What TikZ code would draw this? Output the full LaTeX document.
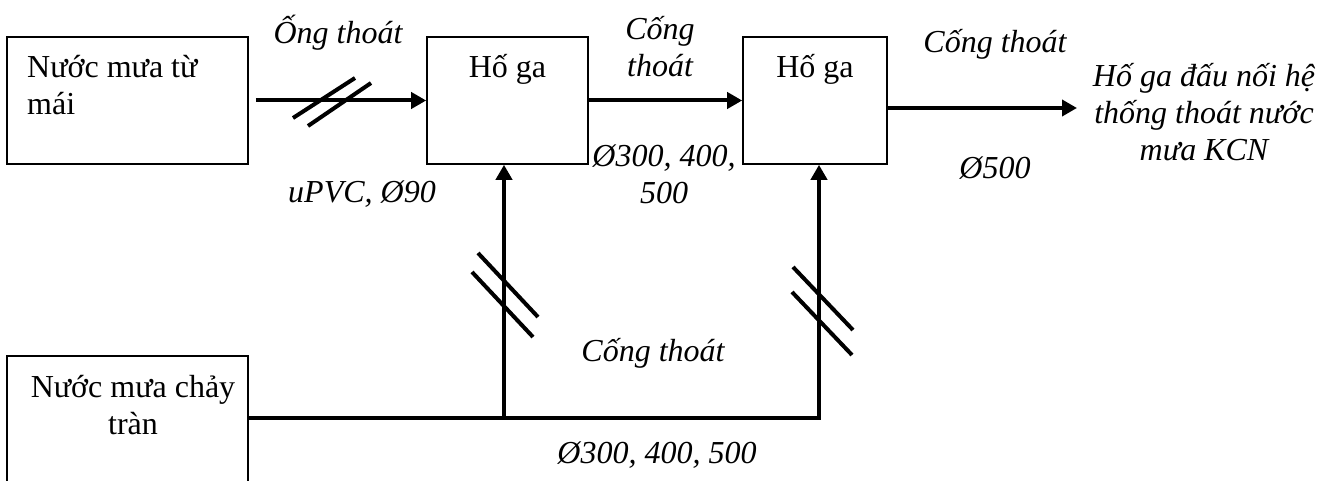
\documentclass[tikz,border=0pt]{standalone}
\usepackage{fontspec}
\setmainfont{Liberation Serif}
\usetikzlibrary{arrows.meta}
\begin{document}
\begin{tikzpicture}[x=1pt,y=-1pt,
  box/.style={draw, line width=1.6pt, inner sep=0pt},
  txt/.style={font=\fontsize{32}{37}\selectfont, inner sep=0pt, anchor=base},
  lbl/.style={txt, font=\fontsize{32}{37}\selectfont\itshape},
  flow/.style={line width=4pt, -{Triangle[length=15pt,width=16pt]}},
  hash/.style={line width=4pt}]
\useasboundingbox (0,0) rectangle (1331,481);
% boxes
\node[box, minimum width=241pt, minimum height=127pt] (roof) at (127.5,100.5) {};
\node[box, minimum width=161pt, minimum height=127pt] (hg1) at (507.5,100.5) {};
\node[box, minimum width=144pt, minimum height=127pt] (hg2) at (815,100.5) {};
\node[box, minimum width=241pt, minimum height=130pt] (run) at (127.5,421) {};
% box texts (multi-line nodes: base = last line)
\node[txt, anchor=base west, align=left] (roofT) at (27,115) {Nước mưa từ\\mái};
\node[txt] (hg1T) at (507.5,78) {Hố ga};
\node[txt] (hg2T) at (815,78) {Hố ga};
\node[txt, align=center] (runT) at (133,434) {Nước mưa chảy\\tràn};
% connectors
\draw[flow] ([xshift=7pt]roof.east) -- (hg1.west);
\draw[flow] (hg1.east) -- (hg2.west);
\coordinate (outlet) at (1077,108);
\draw[flow] (hg2.east |- outlet) -- (outlet);
\coordinate (j1) at (504,418);
\coordinate (j2) at (819,418);
\draw[flow] (run.east |- j1) -- (j2) -- (hg2.south -| j2);
\draw[flow] (j1) -- (hg1.south -| j1);
% hash marks
\draw[hash] (293,118) -- (355,78);
\draw[hash] (308,126) -- (371,83);
\draw[hash] (478,253) -- (538,317);
\draw[hash] (472,272) -- (533,337);
\draw[hash] (793,267) -- (853,330);
\draw[hash] (792,292) -- (852,355);
% labels
\node[lbl] (l1a) at (338,44) {Ống thoát};
\node[lbl] (l1b) at (362,203) {uPVC, Ø90};
\node[lbl, align=center] (l2a) at (660,77) {Cống\\thoát};
\node[lbl, align=center] (l2b) at (664,204) {Ø300, 400,\\500};
\node[lbl] (l3a) at (995,53) {Cống thoát};
\node[lbl] (l3b) at (995,179) {Ø500};
\node[lbl, align=center] (dest) at (1204,161) {Hố ga đấu nối hệ\\thống thoát nước\\mưa KCN};
\node[lbl] (l4a) at (653,361) {Cống thoát};
\node[lbl] (l4b) at (657,463) {Ø300, 400, 500};
\end{tikzpicture}
\end{document}
